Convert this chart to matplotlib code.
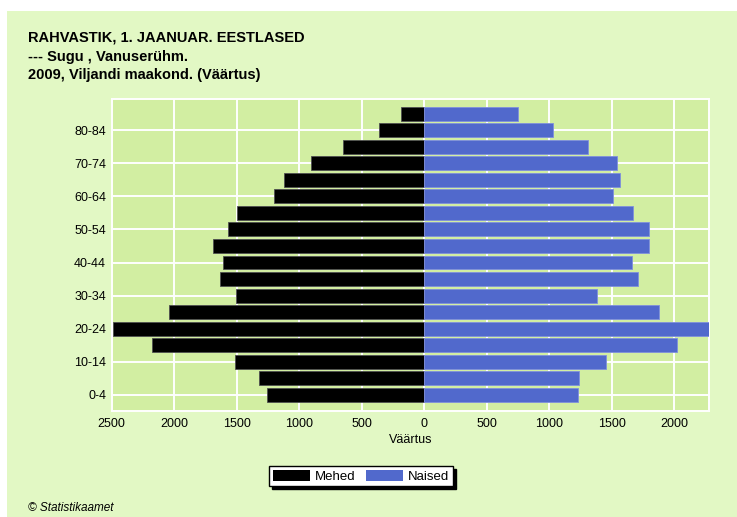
import matplotlib.pyplot as plt
import numpy as np
from matplotlib.patches import Patch
from matplotlib.ticker import FuncFormatter

plt.rcParams['font.family'] = ['Liberation Sans', 'DejaVu Sans']

# Age groups bottom to top
ages = ['0-4', '5-9', '10-14', '15-19', '20-24', '25-29', '30-34', '35-39',
        '40-44', '45-49', '50-54', '55-59', '60-64', '65-69', '70-74',
        '75-79', '80-84', '85+']
mehed = [1259, 1318, 1515, 2175, 2489, 2045, 1507, 1634, 1613, 1693,
         1573, 1496, 1201, 1121, 905, 649, 364, 186]
naised = [1228, 1238, 1451, 2024, 2280, 1877, 1385, 1709, 1659, 1797,
          1797, 1669, 1513, 1563, 1542, 1307, 1031, 746]

outer_bg = '#E2F8C4'
plot_bg = '#D2EEA2'
black = '#000000'
blue = '#5169CC'

fig = plt.figure(figsize=(7.37, 5.17), dpi=100)
fig.patch.set_facecolor('white')
# green panel inside a thin white border
fig.patches.append(plt.Rectangle((7 / 737, 0), 1, 1 - 11 / 517,
                                 transform=fig.transFigure,
                                 facecolor=outer_bg, edgecolor='none', zorder=-10))

ax = fig.add_axes([0.1516, 0.205, 0.8108, 0.6035])
ax.set_facecolor(plot_bg)

y = np.arange(len(ages))
ax.barh(y, -np.array(mehed), height=0.84, color=black, edgecolor='#505050',
        linewidth=0.6, zorder=3)
ax.barh(y, naised, height=0.84, color=blue, edgecolor='#8090DD',
        linewidth=0.6, zorder=3)

ax.set_xlim(-max(mehed), max(naised))
ax.set_ylim(-0.97, 17.88)

ax.set_xticks(np.arange(-2500, 2001, 500))
ax.xaxis.set_major_formatter(FuncFormatter(lambda v, p: f'{abs(int(v))}'))
ax.set_yticks(y[::2])
ax.set_yticklabels(ages[::2])
ax.tick_params(length=0, labelsize=9, pad=4)
ax.tick_params(axis='x', pad=5)

ax.grid(True, color='white', linewidth=1.4, zorder=1)
for s in ax.spines.values():
    s.set_color('white')
    s.set_linewidth(1.4)

ax.set_xlabel('Väärtus', fontsize=9, labelpad=3)

fig.text(28 / 737, 1 - 31 / 517,
         'RAHVASTIK, 1. JAANUAR. EESTLASED\n--- Sugu , Vanuserühm.\n2009, Viljandi maakond. (Väärtus)',
         fontsize=10.5, fontweight='bold', va='top', ha='left', linespacing=1.42)
fig.text(28 / 737, 1 - 508 / 517, '© Statistikaamet', fontsize=8.5,
         style='italic', va='center', ha='left')

handles = [Patch(facecolor=black, edgecolor='none', label='Mehed'),
           Patch(facecolor=blue, edgecolor='none', label='Naised')]
leg = fig.legend(handles=handles, loc='center', bbox_to_anchor=(0.49, 0.079),
                 ncol=2, fontsize=9.5, frameon=True, fancybox=False,
                 shadow={'color': 'black', 'alpha': 1}, handlelength=2.8,
                 handleheight=0.9, columnspacing=0.8, handletextpad=0.4,
                 borderpad=0.25, borderaxespad=0)
leg.get_frame().set_edgecolor('black')
leg.get_frame().set_linewidth(1)
leg.get_frame().set_facecolor('white')

fig.savefig('out.png', dpi=100, facecolor=fig.get_facecolor())
